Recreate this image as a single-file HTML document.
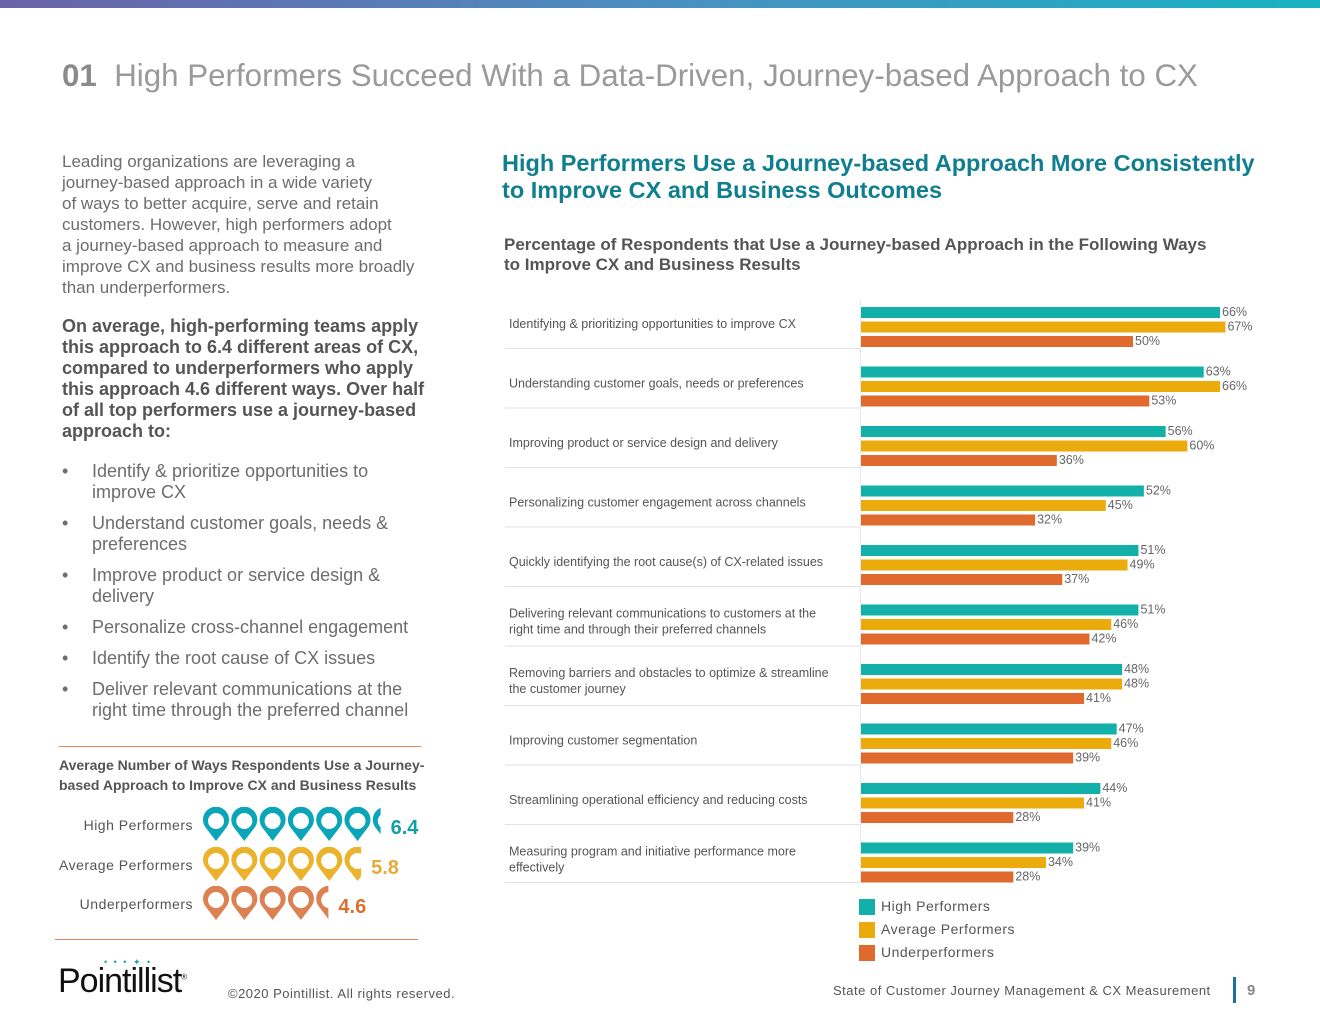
<!DOCTYPE html>
<html><head><meta charset="utf-8"><style>
body{margin:0;width:1320px;height:1020px;position:relative;background:#fff;font-family:"Liberation Sans",sans-serif;overflow:hidden}
.a{position:absolute}
.lt{color:#6d6d6d;font-size:17px;line-height:21px}
</style></head><body>
<div class="a" style="left:0;top:0;width:1320px;height:8px;background:linear-gradient(90deg,#6b62a8,#4a8fc0,#17b3c2)"></div>
<div class="a" style="left:62px;top:58px;font-size:31.3px;color:#9a9a9a;white-space:nowrap"><b style="color:#8a8a8a">01</b>&nbsp; High Performers Succeed With a Data-Driven, Journey-based Approach to CX</div>
<div class="a lt" style="left:62px;top:151px;width:390px;white-space:nowrap">Leading organizations are leveraging a<br>journey-based approach in a wide variety<br>of ways to better acquire, serve and retain<br>customers. However, high performers adopt<br>a journey-based approach to measure and<br>improve CX and business results more broadly<br>than underperformers.</div>
<div class="a" style="left:62px;top:316px;width:370px;font-size:18px;line-height:21px;font-weight:bold;color:#555">On average, high-performing teams apply this approach to 6.4 different areas of CX, compared to underperformers who apply this approach 4.6 different ways. Over half of all top performers use a journey-based approach to:</div>
<div class="a lt" style="left:62px;top:461px;width:360px;font-size:18px">
<div style="position:relative;padding-left:30px;margin-bottom:10px"><span style="position:absolute;left:0">•</span>Identify &amp; prioritize opportunities to improve CX</div>
<div style="position:relative;padding-left:30px;margin-bottom:10px"><span style="position:absolute;left:0">•</span>Understand customer goals, needs &amp; preferences</div>
<div style="position:relative;padding-left:30px;margin-bottom:10px"><span style="position:absolute;left:0">•</span>Improve product or service design &amp; delivery</div>
<div style="position:relative;padding-left:30px;margin-bottom:10px"><span style="position:absolute;left:0">•</span>Personalize cross-channel engagement</div>
<div style="position:relative;padding-left:30px;margin-bottom:10px"><span style="position:absolute;left:0">•</span>Identify the root cause of CX issues</div>
<div style="position:relative;padding-left:30px;margin-bottom:10px"><span style="position:absolute;left:0">•</span>Deliver relevant communications at the right time through the preferred channel</div>
</div>
<div class="a" style="left:59px;top:746px;width:362px;height:1px;background:#d9895a"></div>
<div class="a" style="left:59px;top:755px;width:380px;font-size:14px;line-height:20px;font-weight:bold;color:#555">Average Number of Ways Respondents Use a Journey-based Approach to Improve CX and Business Results</div>
<div class="a" style="left:55px;top:939px;width:363px;height:1px;background:#d9895a"></div>
<div class="a" style="left:58px;top:962px;font-size:34px;color:#111;letter-spacing:-1px">Pointillist<sup style="font-size:8px">®</sup></div>
<div class="a" style="left:104px;top:957px;font-size:9px;color:#1aa59a;letter-spacing:2px">• • • ✦ •</div>
<div class="a" style="left:228px;top:986px;font-size:13px;color:#555;letter-spacing:.5px">©2020 Pointillist. All rights reserved.</div>
<div class="a" style="left:833px;top:983px;font-size:13px;color:#555;letter-spacing:.5px">State of Customer Journey Management &amp; CX Measurement</div>
<div class="a" style="left:1233px;top:977px;width:3px;height:26px;background:#1a6fa0"></div>
<div class="a" style="left:1247px;top:982px;font-size:15px;font-weight:bold;color:#888">9</div>
<div class="a" style="left:502px;top:150px;font-size:23.5px;line-height:27px;font-weight:bold;color:#0f7f8f;white-space:nowrap">High Performers Use a Journey-based Approach More Consistently<br>to Improve CX and Business Outcomes</div>
<div class="a" style="left:504px;top:235px;font-size:17px;line-height:20px;font-weight:bold;color:#555">Percentage of Respondents that Use a Journey-based Approach in the Following Ways<br>to Improve CX and Business Results</div>
<svg class="a" id="chart" style="left:0;top:0" width="1320" height="1020"></svg>
<script>
const categories=["Identifying & prioritizing opportunities to improve CX","Understanding customer goals, needs or preferences","Improving product or service design and delivery","Personalizing customer engagement across channels","Quickly identifying the root cause(s) of CX-related issues","Delivering relevant communications to customers at the|right time and through their preferred channels","Removing barriers and obstacles to optimize & streamline|the customer journey","Improving customer segmentation","Streamlining operational efficiency and reducing costs","Measuring program and initiative performance more|effectively"];
const high=[66,63,56,52,51,51,48,47,44,39];
const avg=[67,66,60,45,49,46,48,46,41,34];
const under=[50,53,36,32,37,42,41,39,28,28];
const seriesNames=["High Performers","Average Performers","Underperformers"];
const colors=["#12b0a8","#ebab0c","#e0692e"];
const pinValues=[6.4,5.8,4.6];
const pinLabels=["High Performers","Average Performers","Underperformers"];
const pinColors=["#0aa5b9","#ebb22c","#db8152"];
const pinTextColors=["#129fa6","#e6a93a","#d9702e"];
const NS="http://www.w3.org/2000/svg";
const svg=document.getElementById('chart');
const x0=861,pxPer=5.44,y0=307,gap=59.5;
const xs=v=>v*pxPer;
const ys=i=>y0+i*gap;
function el(t,a){const e=document.createElementNS(NS,t);for(const k in a)e.setAttribute(k,a[k]);svg.appendChild(e);return e;}
const series=[high,avg,under];
categories.forEach((c,i)=>{
  const yb=ys(i);
  const lines=c.split('|');
  lines.forEach((ln,j)=>{
    const t=el('text',{x:509,y:yb+21+(lines.length>1?(j*16-8):0),'font-size':12.5,fill:'#555','font-family':'Liberation Sans'});
    t.textContent=ln;
    
    
  });
  if(i<categories.length-1){
    const l=el('rect',{x:505,y:yb+41,width:355,height:1,fill:'#e2e2e2'});
    
    
  }
  series.forEach((s,k)=>{
    const r=el('rect',{x:x0,y:yb+k*14.5,width:xs(s[i]),height:11,fill:colors[k]});
    
    
    const t=el('text',{x:x0+xs(s[i])+2,y:yb+k*14.5+9,'font-size':12.5,fill:'#666','font-family':'Liberation Sans'});
    t.textContent=s[i]+'%';
    
    
  });
});
const ax=el('rect',{x:860,y:300,width:1,height:583,fill:'#e8e8e8'});


const bl=el('rect',{x:505,y:882,width:355,height:1,fill:'#e2e2e2'});


seriesNames.forEach((n,k)=>{
  const r=el('rect',{x:859,y:899+k*23,width:16,height:16,fill:colors[k]});
  
  
  const t=el('text',{x:881,y:911+k*23,'font-size':14,fill:'#555','font-family':'Liberation Sans','letter-spacing':'0.5'});
  t.textContent=n;
  
  
});
const pinRowY=[807,847,886];
pinValues.forEach((v,k)=>{
  const y=pinRowY[k];
  const t=el('text',{x:193,y:y+23,'font-size':14,fill:'#555','text-anchor':'end','font-family':'Liberation Sans','letter-spacing':'0.5'});
  t.textContent=pinLabels[k];
  
  
  const n=Math.ceil(v);
  const clipW=Math.floor(v)*28.3+(v%1)*22;
  const cp=el('clipPath',{id:'cp'+k});
  const cr=document.createElementNS(NS,'rect');
  cr.setAttribute('x',202);cr.setAttribute('y',y);cr.setAttribute('width',clipW);cr.setAttribute('height',40);
  cp.appendChild(cr);
  const g=el('g',{'clip-path':'url(#cp'+k+')'});
  for(let i=0;i<n;i++){
    const cx=216+i*28.3,cy=y+14;
    const p=document.createElementNS(NS,'path');
    p.setAttribute('d',`M${cx} ${cy+20} L${cx-10} ${cy+7} A13 13 0 1 1 ${cx+10} ${cy+7} Z M${cx} ${cy-8} A8 8 0 1 0 ${cx} ${cy+8} A8 8 0 1 0 ${cx} ${cy-8} Z`);
    p.setAttribute('fill',pinColors[k]);p.setAttribute('fill-rule','evenodd');
    
    
    g.appendChild(p);
  }
  const vt=el('text',{x:202+clipW+10,y:y+27,'font-size':20,'font-weight':'bold',fill:pinTextColors[k],'font-family':'Liberation Sans'});
  vt.textContent=v.toFixed(1);
  
  
});
</script>
</body></html>
